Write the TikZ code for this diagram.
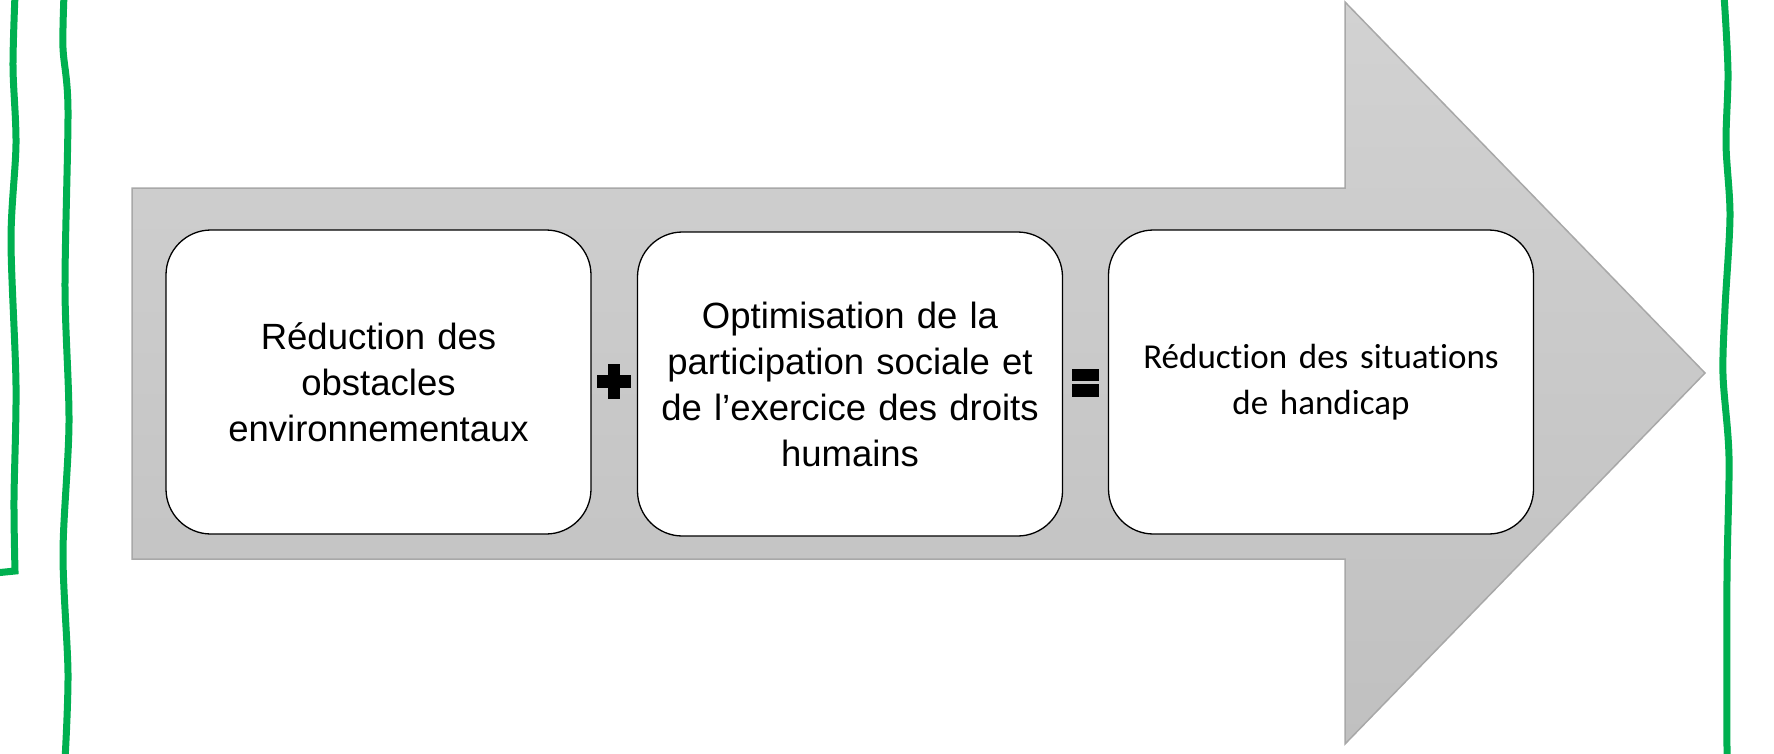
\documentclass[tikz,border=0pt]{standalone}
\usepackage{fontspec}
\setmainfont{Liberation Sans}
\newfontfamily\calibri[Ligatures=NoCommon]{Carlito}
\definecolor{arrowtop}{RGB}{210,210,210}
\definecolor{arrowbot}{RGB}{192,192,192}
\definecolor{arrowedge}{RGB}{168,168,168}
\definecolor{frame}{RGB}{0,176,80}
\begin{document}
\begin{tikzpicture}[x=1pt,y=-1pt,
    box/.style={draw=black, line width=1.3pt, fill=white, rounded corners=45pt,
      minimum width=425pt, minimum height=304pt, text width=410pt, align=center,
      font=\fontsize{36.5}{46}\selectfont},
    greenline/.style={draw=frame, line width=7pt}]
  \useasboundingbox (0,0) rectangle (1774,753);
  % big arrow
  \path[draw=arrowedge, line width=1.5pt, top color=arrowtop, bottom color=arrowbot]
    (132,188) -- (1345,188) -- (1345,2) -- (1705,373) -- (1345,744)
    -- (1345,559) -- (132,559) -- cycle;
  % boxes
  \node[box] (obst) at (378.5,382) {R\'eduction des\\obstacles\\environnementaux};
  \node[box] (part) at (850,384) {Optimisation de la\\participation sociale et\\de l’exercice des droits\\humains};
  \node[box, font=\calibri\fontsize{35}{46}\selectfont] (handi) at (1321,382) {R\'eduction des situations\\de handicap};
  % plus and equals
  \fill[black] (608,364) rectangle (620,399);
  \fill[black] (597,375) rectangle (631,388);
  \fill[black] (1072,369) rectangle (1099,381);
  \fill[black] (1072,384) rectangle (1099,397);
  % green borders
  \draw[greenline, line join=miter] plot[smooth] coordinates {(15,-5) (13,67) (16,144) (11,240) (16,385) (14,500) (15,571)} -- (-5,573);
  \draw[greenline] plot[smooth] coordinates {(64,-5) (63,48) (68,110) (65,288) (69,423) (63,553) (68,673) (65,760)};
  \draw[greenline] plot[smooth] coordinates {(1724,-5) (1728,72) (1726,144) (1730,216) (1725,308) (1723,375) (1729,457) (1727,577) (1727,760)};
\end{tikzpicture}
\end{document}
